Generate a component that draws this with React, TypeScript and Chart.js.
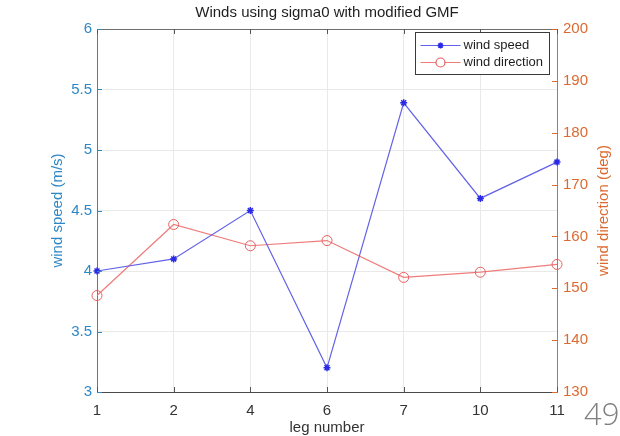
import React, { useEffect, useRef } from 'react';
import { Chart, registerables } from 'chart.js';

Chart.register(...registerables);

const legLabels = ['1', '2', '4', '6', '7', '10', '11'];
const windSpeed = [4.0, 4.1, 4.5, 3.2, 5.39, 4.6, 4.9];
const windDirection = [148.6, 162.3, 158.2, 159.2, 152.1, 153.1, 154.6];
const chartTitle = 'Winds using sigma0 with modified GMF';
const xTitle = 'leg number';
const leftTitle = 'wind speed (m/s)';
const rightTitle = 'wind direction (deg)';
const seriesNames = ['wind speed', 'wind direction'];
const slideNumber = '49';

const BLUE_AXIS = '#2f88c6';
const ORANGE_AXIS = '#dc6a30';
const BLUE_LINE = '#6262e8';
const BLUE_MARK = '#2a2ae6';
const RED_LINE = '#ef7b7b';
const RED_MARK = '#e85f5f';
const FONT = '"Liberation Sans", Arial, sans-serif';
const FS = 15;

function drawStar(ctx: CanvasRenderingContext2D, x: number, y: number, r: number, color: string) {
  ctx.save();
  ctx.strokeStyle = color;
  ctx.lineWidth = 1.5;
  ctx.beginPath();
  ctx.moveTo(x - r, y); ctx.lineTo(x + r, y);
  ctx.moveTo(x, y - r); ctx.lineTo(x, y + r);
  const d = r * 0.707;
  ctx.moveTo(x - d, y - d); ctx.lineTo(x + d, y + d);
  ctx.moveTo(x - d, y + d); ctx.lineTo(x + d, y - d);
  ctx.stroke();
  ctx.restore();
}

const decorPlugin = {
  id: 'decor',
  afterDraw(chart: any) {
    const ctx: CanvasRenderingContext2D = chart.ctx;
    const a = chart.chartArea;
    const cx = (a.left + a.right) / 2;
    const cy = (a.top + a.bottom) / 2;
    ctx.save();
    // top border
    ctx.strokeStyle = '#6e6e6e';
    ctx.lineWidth = 1;
    ctx.beginPath();
    ctx.moveTo(a.left, a.top + 0.5);
    ctx.lineTo(a.right, a.top + 0.5);
    ctx.stroke();

    // inward tick marks
    const xs = chart.scales.x;
    ctx.strokeStyle = '#555';
    ctx.beginPath();
    for (let i = 0; i < legLabels.length; i++) {
      const px = Math.round(xs.getPixelForValue(i)) + 0.5;
      ctx.moveTo(px, a.bottom); ctx.lineTo(px, a.bottom - 5);
      ctx.moveTo(px, a.top); ctx.lineTo(px, a.top + 5);
    }
    ctx.stroke();
    const yl = chart.scales.y;
    ctx.strokeStyle = BLUE_AXIS;
    ctx.beginPath();
    yl.ticks.forEach((t: any) => {
      const py = Math.round(yl.getPixelForValue(t.value)) + 0.5;
      ctx.moveTo(a.left, py); ctx.lineTo(a.left + 5, py);
    });
    ctx.stroke();
    const yr = chart.scales.y1;
    ctx.strokeStyle = ORANGE_AXIS;
    ctx.beginPath();
    yr.ticks.forEach((t: any) => {
      const py = Math.round(yr.getPixelForValue(t.value)) + 0.5;
      ctx.moveTo(a.right, py); ctx.lineTo(a.right - 5, py);
    });
    ctx.stroke();

    // title
    ctx.fillStyle = '#1e1e1e';
    ctx.font = `${FS}px ${FONT}`;
    ctx.textAlign = 'center';
    ctx.textBaseline = 'middle';
    ctx.fillText(chartTitle, cx, 13);

    // x title
    ctx.fillStyle = '#333';
    ctx.fillText(xTitle, cx, 428);

    // left title
    ctx.save();
    ctx.translate(58, cy);
    ctx.rotate(-Math.PI / 2);
    ctx.fillStyle = BLUE_AXIS;
    ctx.fillText(leftTitle, 0, 0);
    ctx.restore();

    // right title
    ctx.save();
    ctx.translate(604, cy);
    ctx.rotate(-Math.PI / 2);
    ctx.fillStyle = ORANGE_AXIS;
    ctx.fillText(rightTitle, 0, 0);
    ctx.restore();

    // legend
    const lx = 415.5, ly = 32.5, lw = 134, lh = 42;
    ctx.fillStyle = '#fff';
    ctx.fillRect(lx, ly, lw, lh);
    ctx.strokeStyle = '#3a3a3a';
    ctx.lineWidth = 1;
    ctx.strokeRect(lx, ly, lw, lh);
    const rows = [ly + 13, ly + 30];
    ctx.strokeStyle = BLUE_LINE;
    ctx.lineWidth = 1.2;
    ctx.beginPath();
    ctx.moveTo(lx + 5, rows[0]); ctx.lineTo(lx + 45, rows[0]);
    ctx.stroke();
    drawStar(ctx, lx + 25, rows[0], 3, BLUE_MARK);
    ctx.strokeStyle = RED_LINE;
    ctx.beginPath();
    ctx.moveTo(lx + 5, rows[1]); ctx.lineTo(lx + 45, rows[1]);
    ctx.stroke();
    ctx.fillStyle = '#fff';
    ctx.strokeStyle = RED_MARK;
    ctx.beginPath();
    ctx.arc(lx + 25, rows[1], 4.5, 0, Math.PI * 2);
    ctx.fill();
    ctx.stroke();
    ctx.fillStyle = '#1e1e1e';
    ctx.font = `13px ${FONT}`;
    ctx.textAlign = 'left';
    ctx.fillText(seriesNames[0], lx + 48, rows[0]);
    ctx.fillText(seriesNames[1], lx + 48, rows[1]);
    ctx.restore();
  },
};

export default function App() {
  const ref = useRef<HTMLCanvasElement | null>(null);
  useEffect(() => {
    if (!ref.current) return;
    const chart = new Chart(ref.current, {
      type: 'line',
      data: {
        labels: legLabels,
        datasets: [
          {
            label: seriesNames[0],
            data: windSpeed,
            yAxisID: 'y',
            borderColor: BLUE_LINE,
            borderWidth: 1.2,
            pointStyle: 'star',
            pointRadius: 3.5,
            pointBorderColor: BLUE_MARK,
            pointBorderWidth: 1.5,
            pointBackgroundColor: BLUE_MARK,
            tension: 0,
          },
          {
            label: seriesNames[1],
            data: windDirection,
            yAxisID: 'y1',
            borderColor: RED_LINE,
            borderWidth: 1.2,
            pointStyle: 'circle',
            pointRadius: 5,
            pointBorderColor: RED_MARK,
            pointBorderWidth: 1,
            pointBackgroundColor: 'rgba(0,0,0,0)',
            tension: 0,
          },
        ],
      },
      options: {
        animation: false,
        responsive: false,
        devicePixelRatio: 1,
        layout: { padding: { top: 29, left: 0, right: 0, bottom: 0 } },
        plugins: {
          legend: { display: false },
          title: { display: false },
          tooltip: { enabled: false },
        },
        scales: {
          x: {
            type: 'category',
            offset: false,
            grid: { color: '#e9e9e9', drawTicks: false },
            border: { color: '#4a4a4a' },
            ticks: { color: '#333', font: { family: FONT, size: FS }, padding: 10, maxRotation: 0 },
            afterFit: (s: any) => { s.height = 44; },
          },
          y: {
            type: 'linear',
            position: 'left',
            min: 3,
            max: 6,
            ticks: {
              stepSize: 0.5,
              color: BLUE_AXIS,
              font: { family: FONT, size: FS },
              padding: 5,
              callback: (v: any) => String(Number(v)),
            },
            grid: { color: '#e9e9e9', drawTicks: false },
            border: { color: BLUE_AXIS },
            afterFit: (s: any) => { s.width = 97; },
          },
          y1: {
            type: 'linear',
            position: 'right',
            min: 130,
            max: 200,
            ticks: {
              stepSize: 10,
              color: ORANGE_AXIS,
              font: { family: FONT, size: FS },
              padding: 6,
              callback: (v: any) => String(Number(v)),
            },
            grid: { drawOnChartArea: false, drawTicks: false },
            border: { color: ORANGE_AXIS },
            afterFit: (s: any) => { s.width = 63; },
          },
        },
      },
      plugins: [decorPlugin],
    });
    return () => chart.destroy();
  }, []);
  return (
    <div style={{ position: 'fixed', left: 0, top: 0, width: 620, height: 436, background: '#fff', overflow: 'hidden' }}>
      <canvas ref={ref} width={620} height={436} style={{ display: 'block' }} />
      <div
        style={{
          position: 'absolute',
          left: 584,
          top: 398,
          fontFamily: '"Open Sans", "DejaVu Sans", sans-serif',
          fontWeight: 300,
          fontSize: 31,
          lineHeight: 1,
          color: '#808080',
        }}
      >
        {slideNumber}
      </div>
    </div>
  );
}
